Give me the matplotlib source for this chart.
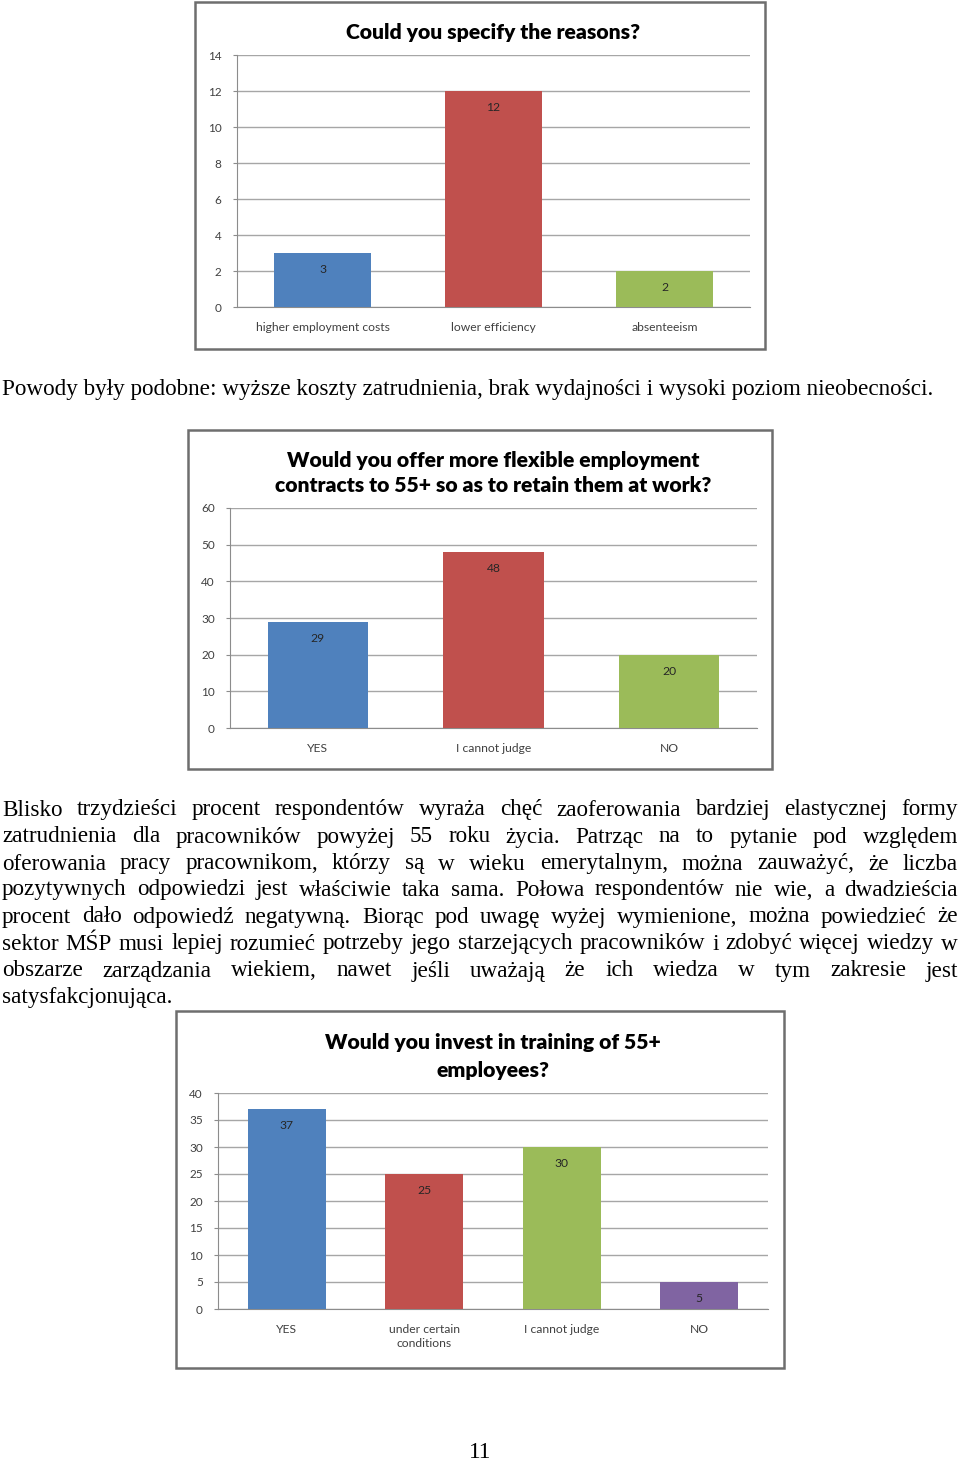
import matplotlib
matplotlib.use("Agg")
import matplotlib.pyplot as plt
from matplotlib.patches import Rectangle

W, H = 960, 1462

# dane wykresow
reasons_cats = ["higher employment costs", "lower efficiency", "absenteeism"]
reasons_vals = [3, 12, 2]
flex_cats = ["YES", "I cannot judge", "NO"]
flex_vals = [29, 48, 20]
train_cats = ["YES", "under certain\nconditions", "I cannot judge", "NO"]
train_vals = [37, 25, 30, 5]

blue, red, green, purple = "#4F81BD", "#C0504D", "#9BBB59", "#8064A2"

text1 = "Powody były podobne: wyższe koszty zatrudnienia, brak wydajności i wysoki poziom nieobecności."
para_lines = [
    "Blisko trzydzieści procent respondentów wyraża chęć zaoferowania bardziej elastycznej formy",
    "zatrudnienia dla pracowników powyżej 55 roku życia. Patrząc na to pytanie pod względem",
    "oferowania pracy pracownikom, którzy są w wieku emerytalnym, można zauważyć, że liczba",
    "pozytywnych odpowiedzi jest właściwie taka sama. Połowa respondentów nie wie, a dwadzieścia",
    "procent dało odpowiedź negatywną. Biorąc pod uwagę wyżej wymienione, można powiedzieć że",
    "sektor MŚP musi lepiej rozumieć potrzeby jego starzejących pracowników i zdobyć więcej wiedzy w",
    "obszarze zarządzania wiekiem, nawet jeśli uważają że ich wiedza w tym zakresie jest",
    "satysfakcjonująca.",
]

fig = plt.figure(figsize=(W / 100, H / 100), dpi=100)
fig.patch.set_facecolor("white")


def fx(x):
    return x / W


def fy(y):
    return 1 - y / H


def frame(x0, y0, x1, y1):
    fig.patches.append(Rectangle((fx(x0), fy(y1)), fx(x1) - fx(x0), fy(y0) - fy(y1),
                                 transform=fig.transFigure, fill=False,
                                 edgecolor="#6e6e6e", linewidth=1.8, zorder=0))


def chart(x0, y0, x1, y1, cats, vals, colors, ymax, step, title, title_y):
    ax = fig.add_axes([fx(x0), fy(y1), fx(x1) - fx(x0), fy(y0) - fy(y1)])
    n = len(cats)
    ax.bar(range(n), vals, width=0.57, color=colors, zorder=3)
    ax.set_xlim(-0.5, n - 0.5)
    ax.set_ylim(0, ymax)
    ax.set_yticks(range(0, ymax + 1, step))
    ax.yaxis.grid(True, color="#a6a6a6", linewidth=1.0, zorder=0)
    ax.set_axisbelow(True)
    for s in ["top", "right"]:
        ax.spines[s].set_visible(False)
    for s in ["left", "bottom"]:
        ax.spines[s].set_color("#8c8c8c")
    ax.set_xticks(range(n))
    ax.set_xticklabels(cats, fontsize=8.7, color="#404040", family="Lato", linespacing=1.25)
    ax.tick_params(axis="x", length=0, pad=11)
    ax.tick_params(axis="y", length=3, color="#8c8c8c", labelsize=8.5,
                   labelcolor="#404040", pad=8)
    for lab in ax.get_yticklabels():
        lab.set_family("Lato")
    for i, v in enumerate(vals):
        ax.annotate(str(v), (i, v), xytext=(0, -8), textcoords="offset points",
                    ha="center", va="top", fontsize=8.7, color="#262626", family="Lato")
    cx = (x0 + x1) / 2
    for k, line in enumerate(title):
        fig.text(fx(cx), fy(title_y[k]), line,
                 ha="center", va="center", fontsize=15.2, fontweight="heavy", family="Lato")
    return ax


frame(195, 2, 765, 349)
chart(237, 55, 750, 307, reasons_cats, reasons_vals, [blue, red, green], 14, 2,
      ["Could you specify the reasons?"], [33])
frame(188, 430, 772, 769)
chart(230, 508, 757, 728, flex_cats, flex_vals, [blue, red, green], 60, 10,
      ["Would you offer more flexible employment",
       "contracts to 55+ so as to retain them at work?"], [460, 486])
frame(176, 1011, 784, 1368)
chart(218, 1093, 768, 1309, train_cats, train_vals, [blue, red, green, purple], 40, 5,
      ["Would you invest in training of 55+", "employees?"], [1043, 1071])

serif = "Liberation Serif"
fs = 16.7
fig.text(fx(2), fy(390), text1, ha="left", va="center", fontsize=fs, family=serif)

renderer = fig.canvas.get_renderer()
left, right = 2, 958
line_y = [810, 837, 864, 890, 917, 944, 971, 997]
for k, line in enumerate(para_lines):
    y = line_y[k]
    words = line.split(" ")
    if k == len(para_lines) - 1:
        fig.text(fx(left), fy(y), line, ha="left", va="center", fontsize=fs, family=serif)
        continue
    objs = [fig.text(0, fy(y), w, ha="left", va="center", fontsize=fs, family=serif)
            for w in words]
    widths = [o.get_window_extent(renderer).width for o in objs]
    gap = (right - left - sum(widths)) / (len(words) - 1)
    x = left
    for o, w in zip(objs, widths):
        o.set_x(fx(x))
        x += w + gap

fig.text(fx(480), fy(1452), "11", ha="center", va="center", fontsize=fs, family=serif)

fig.savefig("out.png", dpi=100)
